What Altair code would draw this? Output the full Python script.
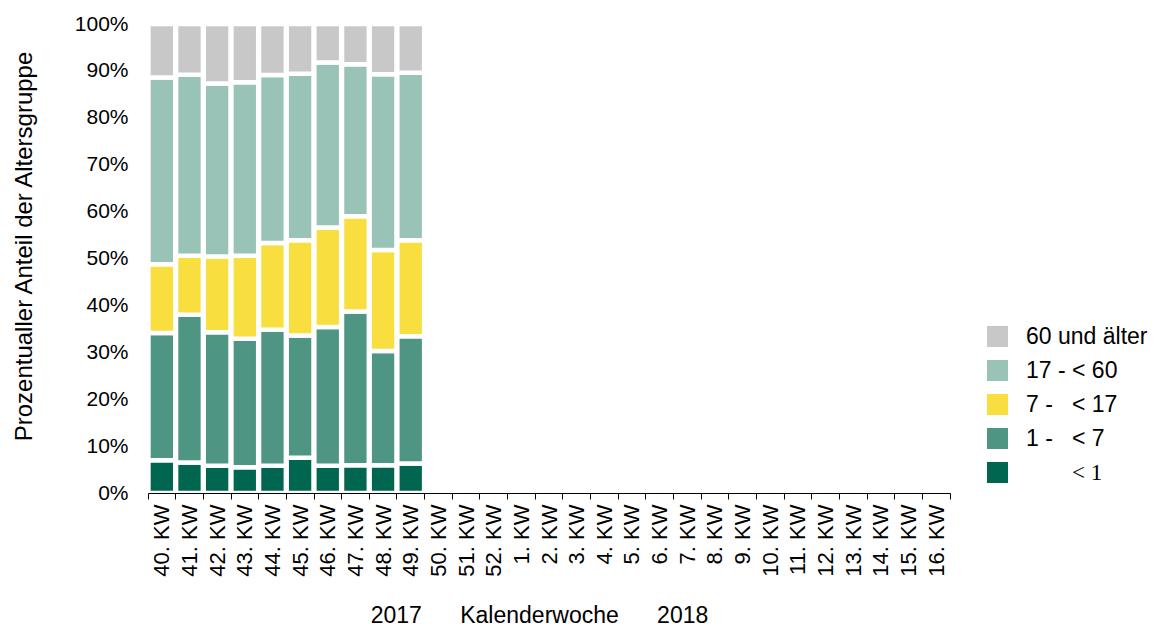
import altair as alt
import pandas as pd

NB = "\u00a0"
ZW = "\u200b"

weeks = ["40. KW", "41. KW", "42. KW", "43. KW", "44. KW", "45. KW", "46. KW",
         "47. KW", "48. KW", "49. KW", "50. KW", "51. KW", "52. KW", "1. KW",
         "2. KW", "3. KW", "4. KW", "5. KW", "6. KW", "7. KW", "8. KW", "9. KW",
         "10. KW", "11. KW", "12. KW", "13. KW", "14. KW", "15. KW", "16. KW"]

# age groups, bottom of the stack first
groups = [ZW + NB * 8 + "< 1", "1 -" + NB * 3 + "< 7", "7 -" + NB * 3 + "< 17",
          "17 - < 60", "60 und älter"]
colors = ["#00664F", "#4E9584", "#F8DE3F", "#9AC3B7", "#C8C8C8"]

# percentage shares per week (only weeks 40-49 reported)
lt1 = [7.0, 6.5, 5.8, 5.5, 5.8, 7.5, 5.8, 5.9, 5.9, 6.3]
g1_7 = [27.1, 31.5, 28.5, 27.4, 29.0, 26.1, 29.6, 32.8, 24.4, 27.1]
g7_17 = [14.7, 12.6, 16.1, 17.7, 18.5, 20.3, 21.2, 20.3, 21.5, 20.5]
g17_60 = [39.8, 38.6, 36.9, 37.0, 35.8, 35.5, 35.2, 32.4, 37.5, 35.7]
g60 = [11.4, 10.8, 12.7, 12.4, 10.9, 10.6, 8.2, 8.6, 10.7, 10.4]

series = [lt1, g1_7, g7_17, g17_60, g60]
rows = []
for gi, (g, vals) in enumerate(zip(groups, series)):
    for w, v in zip(weeks, vals):
        rows.append({"week": w, "group": g, "idx": gi, "value": v})
df = pd.DataFrame(rows)

x_title = "2017" + NB * 6 + "Kalenderwoche" + NB * 6 + "2018"
y_title = "Prozentualler Anteil der Altersgruppe"
FONT = "Liberation Sans"

chart = alt.Chart(df).mark_bar(stroke="white", strokeWidth=4.5).encode(
    x=alt.X("week:N",
            scale=alt.Scale(domain=weeks, paddingInner=0.03, paddingOuter=0.015),
            axis=alt.Axis(title=x_title, labelAngle=-90, labelFontSize=22,
                          labelFont=FONT, labelColor="black", labelPadding=5,
                          tickBand="extent", tickSize=6, tickColor="black",
                          domainColor="black", grid=False, zindex=1,
                          titleFont=FONT, titleFontSize=23, titleFontWeight="normal",
                          titleColor="black", titleX=391, titleY=129,
                          titleAlign="center", titleBaseline="alphabetic")),
    y=alt.Y("value:Q", stack="normalize",
            scale=alt.Scale(domain=[0, 1]),
            axis=alt.Axis(title=y_title, format=".0%",
                          values=[0, 0.1, 0.2, 0.3, 0.4, 0.5, 0.6, 0.7, 0.8, 0.9, 1.0],
                          domain=False, ticks=False, grid=False, labelPadding=20,
                          labelFontSize=21, labelFont=FONT, labelColor="black",
                          titleFont=FONT, titleFontSize=24, titleFontWeight="normal",
                          titleColor="black", titleX=-124, titleY=222,
                          titleAngle=-90, titleAlign="center", titleBaseline="middle")),
    color=alt.Color("group:N",
                    scale=alt.Scale(domain=groups[::-1], range=colors[::-1]),
                    legend=alt.Legend(title=None, orient="none", legendX=838, legendY=301,
                                      symbolType="square", symbolSize=440,
                                      symbolStrokeWidth=0, labelFontSize=23,
                                      labelFont={"expr": "indexof(datum.label, '<') >= 0 && indexof(datum.label, '-') < 0 ? 'Liberation Serif' : 'Liberation Sans'"},
                                      labelColor="black", labelOffset=17,
                                      rowPadding=10, labelLimit=300)),
    order=alt.Order("idx:Q", sort="ascending"),
).properties(
    width=802, height=469,
    autosize=alt.AutoSizeParams(type="none"),
    padding={"left": 140, "top": 16, "right": 200, "bottom": 134},
).configure_view(stroke=None)

chart.save("out.html", embed_options={"renderer": "svg", "actions": False})
